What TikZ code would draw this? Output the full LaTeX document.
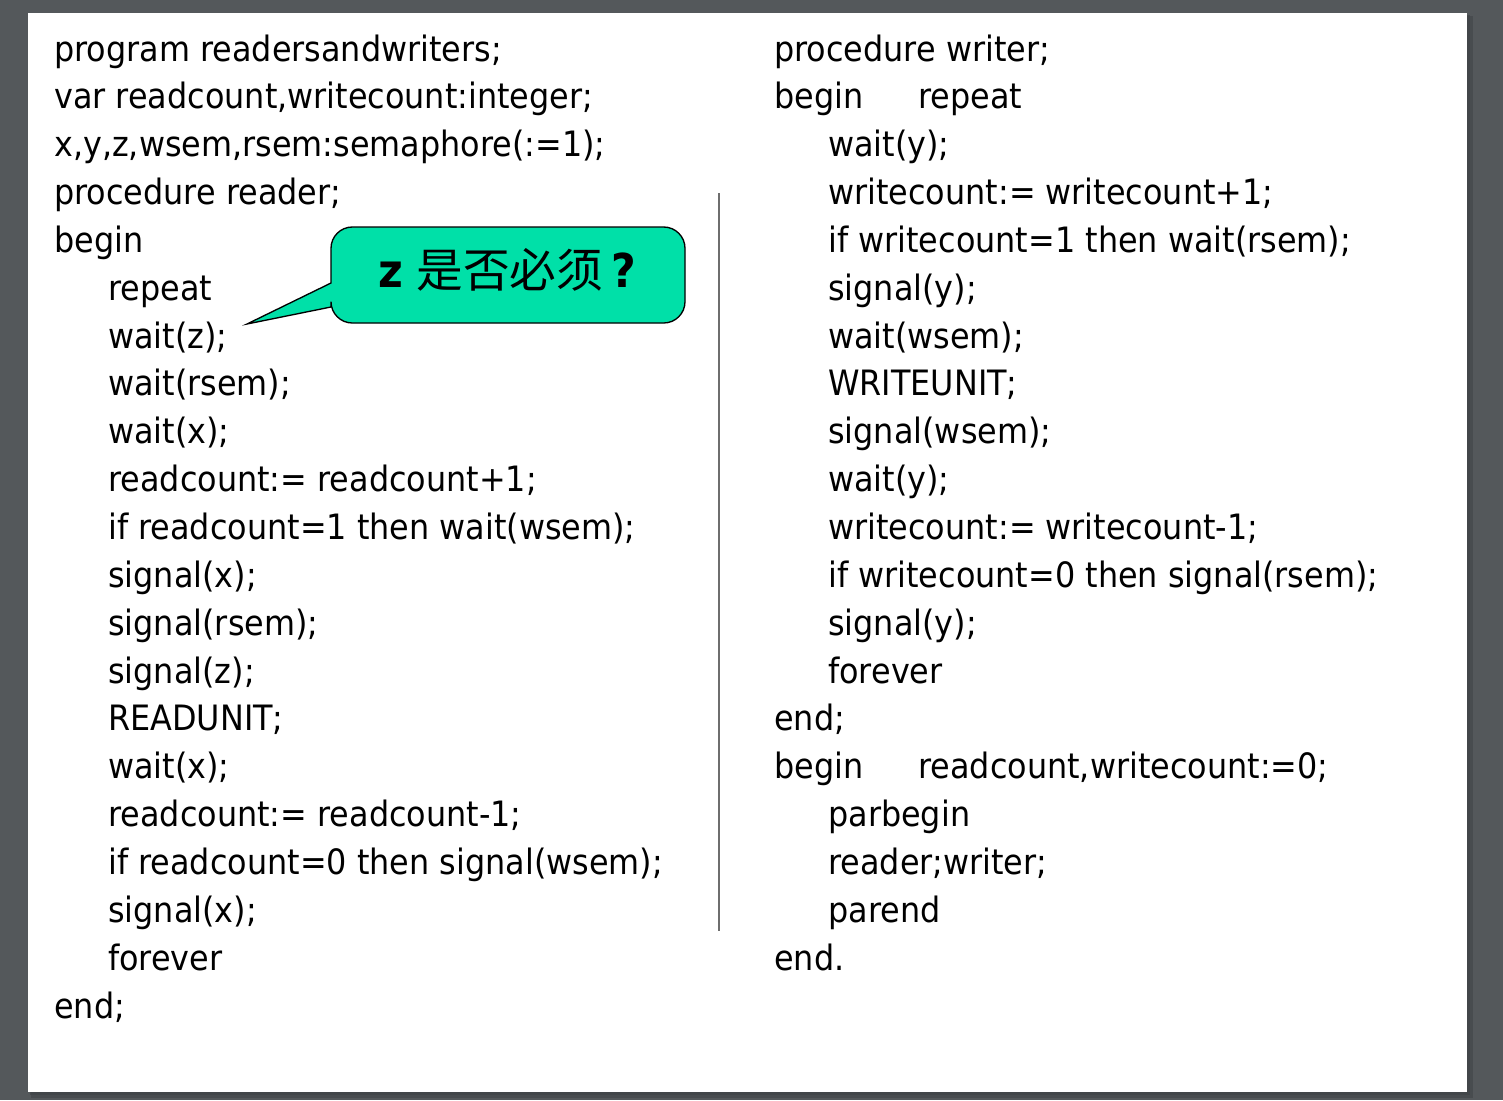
\documentclass[tikz,border=0pt]{standalone}
\usepackage{fontspec}
\setmainfont{DejaVu Sans}[FakeStretch=0.912]
\newfontfamily\cjk{Noto Sans CJK SC}
\definecolor{bggray}{RGB}{84,88,91}
\definecolor{shadowgray}{RGB}{62,66,69}
\definecolor{mint}{RGB}{0,224,168}
\definecolor{rulegray}{RGB}{110,110,110}
\begin{document}
\begin{tikzpicture}[x=0.75pt,y=-0.75pt,
  code/.style={anchor=base west,inner sep=0pt,font=\fontsize{26.2}{36}\selectfont},
  callout/.style={draw=black,line width=1pt,fill=mint}]
\useasboundingbox (0,0) rectangle (1503,1100);
\fill[bggray] (0,0) rectangle (1503,1100);
\fill[shadowgray,opacity=0.5] (31,16) rectangle (1473,1098);
\fill[shadowgray,opacity=0.6] (30,15) rectangle (1470,1095);
\fill[white] (28,13) rectangle (1467,1092);
% divider
\coordinate (dtop) at (719,193);
\coordinate (dbot) at (719,931);
\draw[rulegray,line width=1.5pt] (dtop) -- (dbot);
% left column
\def\yy#1{61+47.85*(#1-1)}
\node[code] (L1)  at (54,{\yy{1}})  {program readersandwriters;};
\node[code] (L2)  at (54,{\yy{2}})  {var readcount,writecount:integer;};
\node[code] (L3)  at (54,{\yy{3}})  {x,y,z,wsem,rsem:semaphore(:=1);};
\node[code] (L4)  at (54,{\yy{4}})  {procedure reader;};
\node[code] (L5)  at (54,{\yy{5}})  {begin};
\node[code] (L6)  at (108,{\yy{6}}) {repeat};
\node[code] (L7)  at (108,{\yy{7}}) {wait(z);};
\node[code] (L8)  at (108,{\yy{8}}) {wait(rsem);};
\node[code] (L9)  at (108,{\yy{9}}) {wait(x);};
\node[code] (L10) at (108,{\yy{10}}) {readcount:= readcount+1;};
\node[code] (L11) at (108,{\yy{11}}) {if readcount=1 then wait(wsem);};
\node[code] (L12) at (108,{\yy{12}}) {signal(x);};
\node[code] (L13) at (108,{\yy{13}}) {signal(rsem);};
\node[code] (L14) at (108,{\yy{14}}) {signal(z);};
\node[code] (L15) at (108,{\yy{15}}) {READUNIT;};
\node[code] (L16) at (108,{\yy{16}}) {wait(x);};
\node[code] (L17) at (108,{\yy{17}}) {readcount:= readcount-1;};
\node[code] (L18) at (108,{\yy{18}}) {if readcount=0 then signal(wsem);};
\node[code] (L19) at (108,{\yy{19}}) {signal(x);};
\node[code] (L20) at (108,{\yy{20}}) {forever};
\node[code] (L21) at (54,{\yy{21}})  {end;};
% right column
\node[code] (R1)  at (774,{\yy{1}})  {procedure writer;};
\node[code] (R2)  at (774,{\yy{2}})  {begin};
\node[code] (R2b) at (918,{\yy{2}})  {repeat};
\node[code] (R3)  at (828,{\yy{3}})  {wait(y);};
\node[code] (R4)  at (828,{\yy{4}})  {writecount:= writecount+1;};
\node[code] (R5)  at (828,{\yy{5}})  {if writecount=1 then wait(rsem);};
\node[code] (R6)  at (828,{\yy{6}})  {signal(y);};
\node[code] (R7)  at (828,{\yy{7}})  {wait(wsem);};
\node[code] (R8)  at (828,{\yy{8}})  {WRITEUNIT;};
\node[code] (R9)  at (828,{\yy{9}})  {signal(wsem);};
\node[code] (R10) at (828,{\yy{10}}) {wait(y);};
\node[code] (R11) at (828,{\yy{11}}) {writecount:= writecount-1;};
\node[code] (R12) at (828,{\yy{12}}) {if writecount=0 then signal(rsem);};
\node[code] (R13) at (828,{\yy{13}}) {signal(y);};
\node[code] (R14) at (828,{\yy{14}}) {forever};
\node[code] (R15) at (774,{\yy{15}}) {end;};
\node[code] (R16) at (774,{\yy{16}}) {begin};
\node[code] (R16b) at (918,{\yy{16}}) {readcount,writecount:=0;};
\node[code] (R17) at (828,{\yy{17}}) {parbegin};
\node[code] (R18) at (828,{\yy{18}}) {reader;writer;};
\node[code] (R19) at (828,{\yy{19}}) {parend};
\node[code] (R20) at (774,{\yy{20}}) {end.};
% callout
\coordinate (tip) at (247,324);
\draw[callout] (tip) -- (331,307)
  [rounded corners=16pt] -- (331,323) -- (685,323) -- (685,227) -- (331,227)
  [sharp corners] -- (331,283) -- cycle;
\node[inner sep=0pt,font=\fontsize{35}{40}\selectfont] (Q) at (507,270)
  {\textbf{z} {\cjk 是否必须}\,\textbf{?}};
\end{tikzpicture}
\end{document}
